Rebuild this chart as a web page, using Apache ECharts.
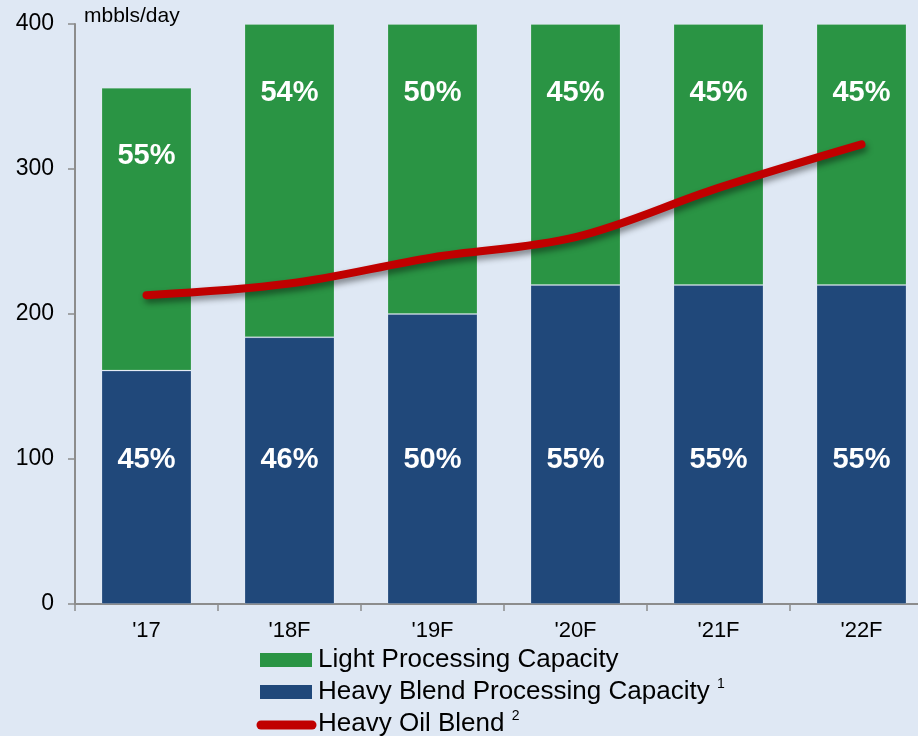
<!DOCTYPE html>
<html>
<head>
<meta charset="utf-8">
<script src="https://cdn.jsdelivr.net/npm/echarts@6/dist/echarts.min.js"></script>
<style>
  html, body { margin: 0; padding: 0; background: #dfe8f4; }
  #chart { width: 918px; height: 736px; }
</style>
</head>
<body>
<div id="chart"></div>
<script>
// Years on the category axis
const categories = ["'17", "'18F", "'19F", "'20F", "'21F", "'22F"];
// Processing capacity, mbbls/day
const heavyCapacity = [161, 184, 200, 220, 220, 220];
const lightCapacity = [195, 216, 200, 180, 180, 180];
// Heavy oil blend volume, mbbls/day
const heavyOilBlend = [213, 221, 239, 253, 287, 317];
// Share of total capacity printed on each segment
const heavyShare = ['45%', '46%', '50%', '55%', '55%', '55%'];
const lightShare = ['55%', '54%', '50%', '45%', '45%', '45%'];
// Value axis ticks
const yTicks = [0, 100, 200, 300, 400];

const FONT = '"Liberation Sans", Arial, sans-serif';
const GREEN = '#2a9444';
const BLUE = '#20487a';
const RED = '#c00000';

const chart = echarts.init(document.getElementById('chart'));

const segLabel = (texts, pos, dist) => ({
  show: true,
  position: pos,
  distance: dist,
  color: '#ffffff',
  fontFamily: FONT,
  fontWeight: 'bold',
  fontSize: 29,
  formatter: p => texts[p.dataIndex]
});

chart.setOption({
  backgroundColor: '#dfe8f4',
  animation: false,
  // the plot runs past the right edge of the canvas
  grid: { left: 75, top: 24, width: 858, height: 580, containLabel: false, outerBoundsMode: 'none' },
  xAxis: {
    type: 'category',
    data: categories,
    boundaryGap: true,
    axisLine: { lineStyle: { color: '#8c8c8c', width: 2 } },
    axisTick: { show: true, length: 7, alignWithLabel: false, lineStyle: { color: '#8c8c8c', width: 1.5 } },
    axisLabel: { color: '#000', fontFamily: FONT, fontSize: 22, margin: 16 }
  },
  yAxis: {
    type: 'value',
    min: yTicks[0],
    max: yTicks[yTicks.length - 1],
    interval: 100,
    splitLine: { show: false },
    axisLine: { show: true, lineStyle: { color: '#8c8c8c', width: 2 } },
    axisTick: { show: true, length: 7, lineStyle: { color: '#8c8c8c', width: 1.5 } },
    axisLabel: { color: '#000', fontFamily: FONT, fontSize: 23, margin: 21 }
  },
  series: [
    {
      name: 'Heavy Blend Processing Capacity',
      type: 'bar',
      stack: 'cap',
      barWidth: 90,
      data: heavyCapacity,
      itemStyle: { color: BLUE, borderColor: 'rgba(255,255,255,0.18)', borderWidth: 1 },
      label: segLabel(heavyShare, 'insideBottom', 130)
    },
    {
      name: 'Light Processing Capacity',
      type: 'bar',
      stack: 'cap',
      barWidth: 90,
      data: lightCapacity,
      itemStyle: { color: GREEN, borderColor: 'rgba(255,255,255,0.18)', borderWidth: 1 },
      label: segLabel(lightShare, 'insideTop', 54)
    },
    {
      name: 'Heavy Oil Blend',
      type: 'line',
      data: heavyOilBlend,
      smooth: 0.35,
      symbol: 'none',
      z: 5,
      lineStyle: {
        color: RED,
        width: 8,
        cap: 'round',
        shadowColor: 'rgba(0,0,0,0.45)',
        shadowBlur: 6,
        shadowOffsetX: 2,
        shadowOffsetY: 4
      }
    }
  ],
  graphic: [
    {
      type: 'text', left: 84, top: 6,
      style: { text: 'mbbls/day', fill: '#000', font: '21px ' + FONT }
    },
    // legend
    { type: 'rect', shape: { x: 260, y: 653, width: 52, height: 14 }, style: { fill: GREEN } },
    {
      type: 'text', x: 318, y: 660,
      style: { text: 'Light Processing Capacity', fill: '#000', font: '26px ' + FONT, verticalAlign: 'middle' }
    },
    { type: 'rect', shape: { x: 260, y: 685, width: 52, height: 14 }, style: { fill: BLUE } },
    {
      type: 'text', x: 318, y: 692,
      style: {
        text: '{m|Heavy Blend Processing Capacity} {s|1}',
        verticalAlign: 'middle',
        rich: {
          m: { fill: '#000', font: '26px ' + FONT },
          s: { fill: '#000', font: '14px ' + FONT, padding: [0, 0, 16, 4] }
        }
      }
    },
    {
      type: 'line', shape: { x1: 261, y1: 725, x2: 312, y2: 725 },
      style: { stroke: RED, lineWidth: 9, lineCap: 'round' }
    },
    {
      type: 'text', x: 318, y: 724,
      style: {
        text: '{m|Heavy Oil Blend} {s|2}',
        verticalAlign: 'middle',
        rich: {
          m: { fill: '#000', font: '26px ' + FONT },
          s: { fill: '#000', font: '14px ' + FONT, padding: [0, 0, 16, 4] }
        }
      }
    }
  ]
});
</script>
</body>
</html>
